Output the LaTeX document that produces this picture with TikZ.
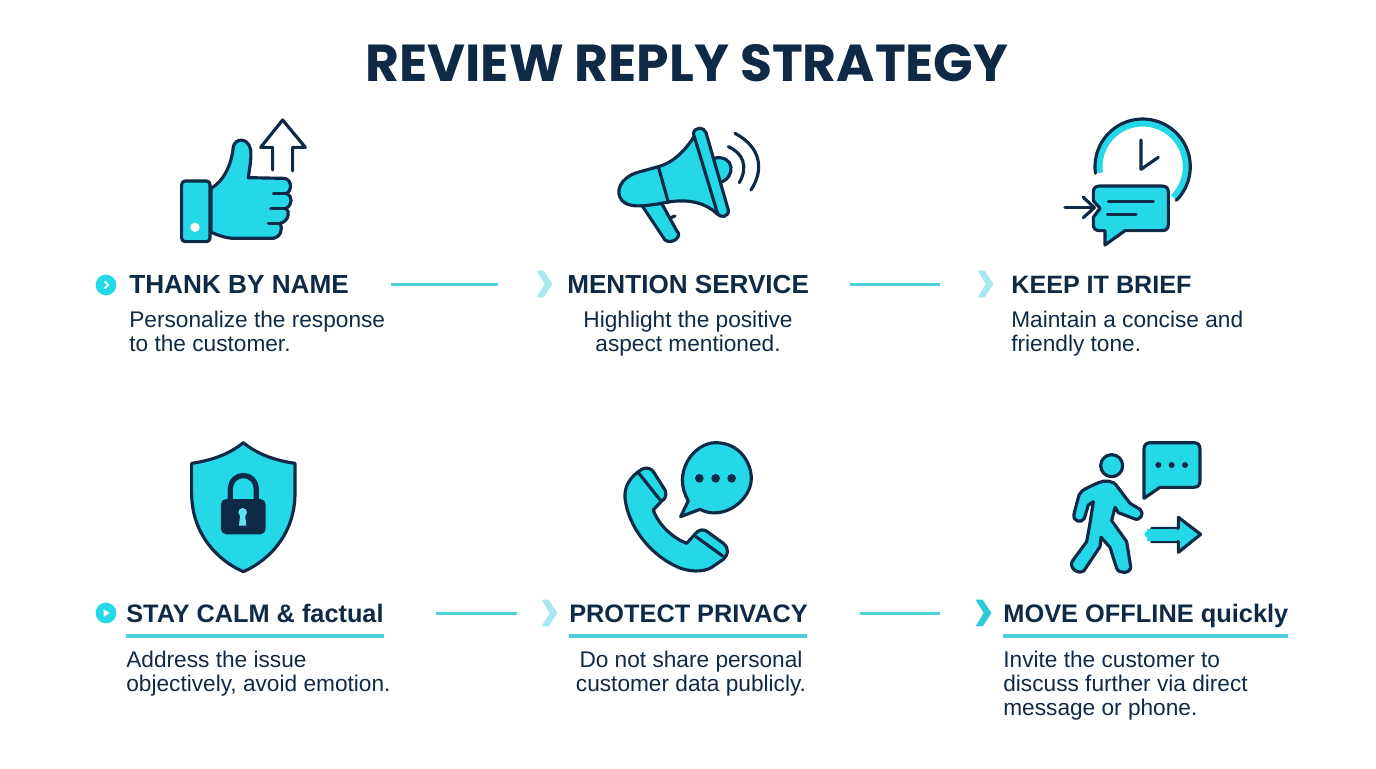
\documentclass[tikz,border=0pt]{standalone}
\usepackage{fontspec}
\setmainfont{Liberation Sans}
\newfontfamily\titlefont{Poppins}
\definecolor{navy}{HTML}{0F2A47}
\definecolor{aqua}{HTML}{24D8E8}
\definecolor{linkteal}{HTML}{4ED2DA}
\definecolor{chevpale}{HTML}{A8E9EE}
\definecolor{chevdeep}{HTML}{2CCBD6}
\definecolor{keyhole}{HTML}{5FE3EE}
\tikzset{
  headtext/.style={anchor=base west, inner sep=0pt, text=navy, font=\bfseries\fontsize{#1}{17}\selectfont},
  headtext/.default=15,
  bodytext/.style={anchor=north west, inner sep=0pt, align=left, text=navy, font=\fontsize{12.9}{13.6}\selectfont},
  bodymid/.style={anchor=north, inner sep=0pt, align=center, text=navy, font=\fontsize{12.9}{13.6}\selectfont},
  link/.style={draw=linkteal, line width=1.7pt},
  underrule/.style={draw=linkteal, line width=1.9pt},
  chev/.style={inner sep=0pt, minimum width=8.6pt, minimum height=14.8pt},
  bulletdot/.style={circle, fill=aqua, inner sep=0pt, minimum size=11.8pt},
  icon/.style={draw=navy, fill=aqua, line width=1.8pt, line join=round, line cap=round},
  iconline/.style={draw=navy, line width=1.8pt, line join=round, line cap=round},
  zoomed/.style={shift={#1}, scale=0.3333}
}
\newcommand{\chevmark}[2]{\fill[#2] (#1.north west) -- ([xshift=4pt]#1.north west) -- (#1.east) -- ([xshift=4pt]#1.south west) -- (#1.south west) -- ([xshift=4.6pt]#1.west) -- cycle;}
\begin{document}
\begin{tikzpicture}[x=0.02cm, y=-0.02cm]
    \useasboundingbox (0,0) rectangle (1376,768);

    % Title
    \node at (687,63) [inner sep=0pt, text=navy, font=\titlefont\bfseries\fontsize{29.6}{34}\selectfont] (title) {REVIEW REPLY STRATEGY};

    % Headings
    \node at (129,293) [headtext=14.9] (h1) {THANK BY NAME};
    \node at (567,293) [headtext=14.85] (h2) {MENTION SERVICE};
    \node at (1011,293) [headtext=14.3] (h3) {KEEP IT BRIEF};
    \node at (126,622) [headtext=14.4] (h4) {STAY CALM \& factual};
    \node at (569,622) [headtext=14.4] (h5) {PROTECT PRIVACY};
    \node at (1003,622) [headtext=14.45] (h6) {MOVE OFFLINE quickly};

    % Texts
    \node at (129,311) [bodytext] (t1) {Personalize the response\\to the customer.};
    \node at (688,311) [bodymid] (t2) {Highlight the positive\\aspect mentioned.};
    \node at (1011,311) [bodytext] (t3) {Maintain a concise and\\friendly tone.};
    \node at (126,651) [bodytext] (t4) {Address the issue\\objectively, avoid emotion.};
    \node at (691,651) [bodymid] (t5) {Do not share personal\\customer data publicly.};
    \node at (1003,651) [bodytext] (t6) {Invite the customer to\\discuss further via direct\\message or phone.};

    % Underlines
    \draw[underrule] (126,636) -- (384,636);
    \draw[underrule] (569,636) -- (807,636);
    \draw[underrule] (1003,636) -- (1288,636);

    % Bullets and chevrons
    \node at (106,285) [bulletdot] (b1) {};
    \node at (106,613) [bulletdot] (b4) {};
    \draw[white, line width=1pt] ([shift={(-0.8pt,2pt)}]b1.center) -- ([xshift=1.2pt]b1.center) -- ([shift={(-0.8pt,-2pt)}]b1.center);
    \fill[white] ([shift={(-1.4pt,2.2pt)}]b4.center) -- ([xshift=2pt]b4.center) -- ([shift={(-1.4pt,-2.2pt)}]b4.center) -- cycle;
    \node at (544.5,284) [chev] (c2) {};
    \node at (985.5,284) [chev] (c3) {};
    \node at (549.5,613) [chev] (c5) {};
    \node at (983.5,613) [chev] (c6) {};
    \chevmark{c2}{chevpale}
    \chevmark{c3}{chevpale}
    \chevmark{c5}{chevpale}
    \chevmark{c6}{chevdeep}

    % Connectors
    \draw[link, shorten <=23.5pt, shorten >=22pt] (h1.east |- c2.west) -- (c2.west);
    \draw[link, shorten <=23.2pt, shorten >=21.5pt] (h2.east |- c3.west) -- (c3.west);
    \draw[link, shorten <=29.5pt, shorten >=14.2pt] (h4.east |- c5.west) -- (c5.west);
    \draw[link, shorten <=29.5pt, shorten >=20pt] (h5.east |- c6.west) -- (c6.west);

    % Thumb
    \begin{scope}[zoomed={(160,110)}]
        \draw[icon] (153,235) .. controls (190,215) and (215,165) .. (220,110) .. controls (225,85) and (265,80) .. (272,120) .. controls (275,150) and (268,175) .. (265,203) -- (370,205) .. controls (395,205) and (398,240) .. (380,250) .. controls (398,258) and (398,285) .. (378,295) .. controls (392,305) and (385,335) .. (360,340) .. controls (370,360) and (360,383) .. (340,385) -- (225,385) .. controls (195,385) and (175,375) .. (153,367) -- cycle;
        \draw[iconline] (340,250) -- (380,250);
        \draw[iconline] (332,295) -- (378,295);
        \draw[iconline] (325,340) -- (360,340);
        \draw[icon, rounded corners=2pt] (65,213) rectangle (150,395);
        \fill[white] (105,352) circle [radius=14];
        \draw[iconline] (338,180) -- (338,112) -- (302,112) -- (368,30) -- (436,112) -- (398,112) -- (398,183);
    \end{scope}

    % Megaphone
    \begin{scope}[zoomed={(600,110)}]
        \draw[icon] (340,145) .. controls (405,130) and (410,205) .. (358,218) -- cycle;
        \draw[icon] (125,285) -- (195,390) .. controls (215,405) and (250,380) .. (230,362) -- (185,280) -- cycle;
        \draw[iconline] (208,325) -- (225,318);
        \draw[icon] (285,75) .. controls (255,125) and (215,160) .. (175,170) -- (110,188) .. controls (60,205) and (45,245) .. (65,270) .. controls (85,295) and (130,290) .. (200,277) .. controls (250,268) and (310,270) .. (355,315) -- cycle;
        \draw[iconline] (175,170) -- (205,277);
        \draw[icon] (280,70) .. controls (285,50) and (312,50) .. (318,68) -- (385,300) .. controls (388,320) and (360,328) .. (352,308) -- cycle;
        \draw[iconline] (385,110) .. controls (430,130) and (445,170) .. (418,218);
        \draw[iconline] (405,70) .. controls (480,110) and (495,175) .. (453,240);
    \end{scope}

    % Clock and message
    \begin{scope}[zoomed={(1050,110)}]
        \draw[aqua, line width=4pt] (278,170) ++(172:131) arc (172:405:131);
        \draw[iconline] (278,170) ++(172:143) arc (172:405:143);
        \draw[iconline] (273,90) -- (273,178) -- (325,142);
        \draw[icon] (150,228) -- (335,228) .. controls (350,228) and (355,235) .. (355,248) -- (355,342) .. controls (355,355) and (350,362) .. (335,362) -- (225,362) -- (165,405) -- (165,362) -- (150,362) .. controls (135,362) and (130,355) .. (130,342) -- (130,322) -- (150,295) -- (130,272) -- (130,248) .. controls (130,235) and (135,228) .. (150,228) -- cycle;
        \draw[iconline] (175,275) -- (310,275);
        \draw[iconline] (172,313) -- (258,313);
        \draw[iconline] (45,293) -- (130,293);
        \draw[iconline] (100,262) -- (133,293) -- (100,323);
    \end{scope}

    % Shield
    \begin{scope}[zoomed={(170,430)}]
        \draw[icon] (220,38) .. controls (175,75) and (120,92) .. (65,100) -- (65,190) .. controls (65,300) and (130,385) .. (220,425) .. controls (310,385) and (375,300) .. (375,190) -- (375,100) .. controls (320,92) and (265,75) .. (220,38) -- cycle;
        \draw[navy, line width=3pt] (181,210) -- (181,180) .. controls (181,122) and (259,122) .. (259,180) -- (259,210);
        \fill[navy, rounded corners=3pt] (153,207) rectangle (287,313);
        \fill[keyhole] (218,247) circle [radius=13];
        \fill[keyhole] (211,250) -- (225,250) -- (229,287) -- (207,287) -- cycle;
    \end{scope}

    % Phone and message
    \begin{scope}[zoomed={(610,430)}]
        \draw[icon] (235,212) .. controls (185,130) and (250,38) .. (317,38) .. controls (390,38) and (424,100) .. (424,145) .. controls (424,210) and (340,275) .. (270,238) -- (212,260) -- cycle;
        \fill[navy] (268,145) circle [radius=13];
        \fill[navy] (317,145) circle [radius=13];
        \fill[navy] (365,145) circle [radius=13];
        \draw[icon] (95,118) .. controls (110,110) and (125,115) .. (132,128) -- (165,180) .. controls (172,195) and (165,208) .. (155,213) -- (130,240) .. controls (145,285) and (190,325) .. (230,340) -- (262,305) .. controls (272,298) and (282,298) .. (292,305) -- (340,340) .. controls (358,355) and (355,375) .. (340,388) -- (305,412) .. controls (280,428) and (235,425) .. (205,412) .. controls (120,375) and (55,290) .. (45,205) .. controls (42,170) and (60,140) .. (95,118) -- cycle;
        \draw[iconline] (85,128) -- (152,212);
        \draw[iconline] (258,320) -- (338,378);
    \end{scope}

    % Walking person and message
    \begin{scope}[zoomed={(1060,430)}]
        \draw[icon] (155,107) circle [radius=33];
        \draw[icon] (272,38) -- (400,38) .. controls (415,38) and (420,45) .. (420,58) -- (420,152) .. controls (420,165) and (415,172) .. (400,172) -- (300,172) -- (252,205) -- (252,58) .. controls (252,45) and (258,38) .. (272,38) -- cycle;
        \fill[navy] (295,105) circle [radius=9];
        \fill[navy] (335,105) circle [radius=9];
        \fill[navy] (375,105) circle [radius=9];
        \draw[icon] (115,158) .. controls (135,150) and (160,150) .. (172,170) -- (210,220) -- (240,238) .. controls (255,250) and (240,275) .. (222,266) -- (175,248) -- (165,232) -- (155,272) -- (200,335) -- (212,410) .. controls (212,432) and (176,432) .. (170,415) -- (150,352) -- (123,322) -- (120,350) -- (72,422) .. controls (55,436) and (24,412) .. (38,392) -- (80,335) -- (90,280) -- (100,215) -- (85,225) -- (73,265) .. controls (65,282) and (37,274) .. (42,252) -- (57,195) .. controls (62,180) and (90,170) .. (115,158) -- cycle;
        \fill[aqua] (265,313) circle [radius=11];
        \draw[icon] (275,295) -- (355,295) -- (355,262) -- (422,313) -- (355,367) -- (355,335) -- (275,335);
        \fill[aqua] (262,298) rectangle (352,332);
    \end{scope}
\end{tikzpicture}
\end{document}
